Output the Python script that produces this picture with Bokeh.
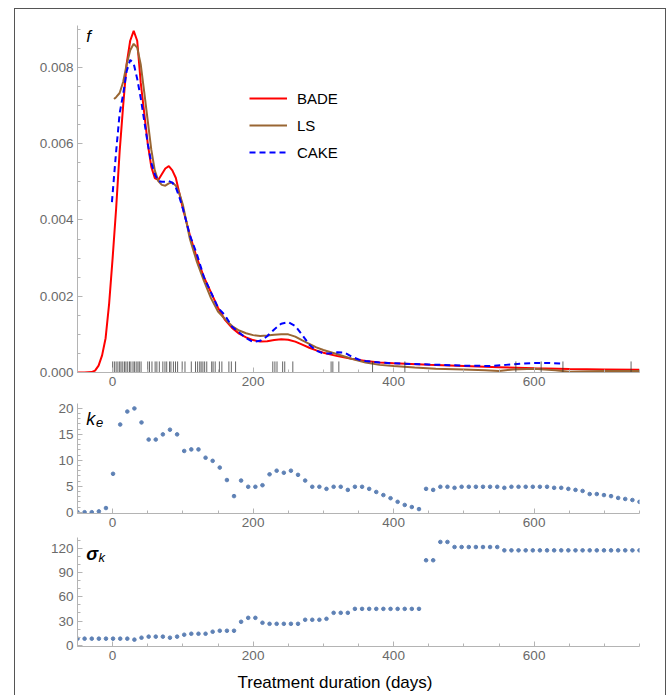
from bokeh.plotting import figure
from bokeh.layouts import column
from bokeh.models import (Range1d, Legend, LegendItem, Title,
                          SingleIntervalTicker, NumeralTickFormatter)
from bokeh.embed import file_html
from bokeh.resources import INLINE
from bokeh.core.properties import value

FONT = "Liberation Sans"
AXIS_GRAY = "#b4b4b4"
LABEL_GRAY = "#6a6a6a"
DOT_BLUE = "#5e81b5"

# ---- density estimates f(t) ----
bade_t = [-50, -40, -30, -25, -20, -15, -10, -5, 0, 5, 10, 15, 20, 25, 30, 35, 40,
          45, 50, 55, 60, 65, 70, 75, 80, 85, 90, 95, 100, 110, 120, 130, 140, 150,
          160, 170, 180, 190, 200, 210, 220, 230, 240, 250, 260, 270, 280, 290, 300,
          320, 340, 360, 380, 400, 450, 500, 550, 600, 650, 700, 750]
bade_f = [0, 0, 0.00001, 0.00005, 0.00018, 0.00045, 0.0009, 0.0018, 0.0030, 0.0043,
          0.0058, 0.0070, 0.0081, 0.0087, 0.00896, 0.0087, 0.0076, 0.0068, 0.0060,
          0.0054, 0.0051, 0.00505, 0.0052, 0.00535, 0.00541, 0.0053, 0.0051, 0.0047,
          0.0043, 0.0036, 0.0030, 0.0025, 0.0021, 0.0017, 0.00138, 0.00117, 0.00102,
          0.00092, 0.00085, 0.00081, 0.00082, 0.00085, 0.00087, 0.00086, 0.00081,
          0.00073, 0.00065, 0.00058, 0.00052, 0.00043, 0.00036, 0.0003, 0.00026,
          0.00024, 0.0002, 0.00017, 0.00014, 0.00011, 0.00009, 0.00008, 0.00007]

ls_t = [2, 5, 10, 15, 20, 25, 30, 35, 40, 45, 50, 55, 60, 65, 70, 75, 80, 85, 90, 95,
        100, 110, 120, 130, 140, 150, 160, 170, 180, 190, 200, 210, 220, 230, 240, 250,
        260, 270, 280, 290, 300, 320, 340, 360, 380, 400, 430, 460, 500, 530, 550, 570,
        600, 630, 650, 700, 750]
ls_f = [0.00717, 0.00722, 0.00733, 0.00762, 0.00808, 0.00845, 0.00862, 0.00852,
        0.00808, 0.00735, 0.0066, 0.00585, 0.0053, 0.00502, 0.00492, 0.0049, 0.00496,
        0.00498, 0.0049, 0.0047, 0.0044, 0.0035, 0.0029, 0.0024, 0.00195, 0.0016,
        0.0014, 0.00122, 0.0011, 0.00103, 0.00098, 0.00096, 0.00097, 0.00099, 0.001,
        0.001, 0.00094, 0.00084, 0.00075, 0.00066, 0.00059, 0.00048, 0.00036, 0.00026,
        0.0002, 0.00017, 0.00013, 0.0001, 0.00008, 0.00006, 0.00004, 0.00008, 0.0001,
        0.00006, 0.00002, 0.00004, 0.00004]

cake_t = [-1, 5, 10, 15, 20, 25, 30, 35, 40, 45, 50, 55, 60, 65, 70, 75, 80, 85, 90,
          95, 100, 110, 120, 130, 140, 150, 160, 170, 180, 190, 200, 210, 220, 230, 240,
          250, 260, 270, 280, 290, 300, 310, 320, 330, 340, 350, 360, 380, 400, 450, 500,
          540, 560, 580, 600, 620, 641]
cake_f = [0.00447, 0.0058, 0.0068, 0.0073, 0.0079, 0.0082, 0.0081, 0.0077, 0.0072,
          0.0066, 0.006, 0.0055, 0.0052, 0.00502, 0.005, 0.005, 0.00502, 0.00498,
          0.00485, 0.0046, 0.0043, 0.0036, 0.0031, 0.0025, 0.0021, 0.0017, 0.0015,
          0.0012, 0.00105, 0.0009, 0.0008, 0.00083, 0.00095, 0.00113, 0.00128, 0.00132,
          0.00122, 0.00098, 0.00073, 0.00057, 0.0005, 0.0005, 0.00053, 0.00052, 0.00042,
          0.00034, 0.0003, 0.00026, 0.00024, 0.00021, 0.00018, 0.00017, 0.0002, 0.00023,
          0.00025, 0.00025, 0.00023]

# observed treatment durations (rug)
durations = [0, 2.5, 5, 7.5, 10, 12, 14.5, 17, 19, 21.5, 24, 26, 29, 31, 33.5, 36, 38,
             40.5, 50, 52.5, 56, 60.5, 63, 66.5, 71.5, 74.5, 77, 81, 83, 86.5, 89.5,
             92.5, 99, 103, 112, 118, 121, 124, 126, 128.5, 131, 134, 141, 143, 146,
             152, 155.5, 165.5, 169, 175, 228, 231, 234, 242, 245, 256.5, 311, 313.5,
             322, 370, 416, 574, 610, 641, 738]

# ---- kernel parameters on an 80-point evaluation grid over [-50, 750] ----
grid_t = [-50.0, -39.9, -29.7, -19.6, -9.5, 0.6, 10.8, 20.9, 31.0, 41.1,
          51.3, 61.4, 71.5, 81.6, 91.8, 101.9, 112.0, 122.2, 132.3, 142.4,
          152.5, 162.7, 172.8, 182.9, 193.0, 203.2, 213.3, 223.4, 233.5, 243.7,
          253.8, 263.9, 274.1, 284.2, 294.3, 304.4, 314.6, 324.7, 334.8, 344.9,
          355.1, 365.2, 375.3, 385.4, 395.6, 405.7, 415.8, 425.9, 436.1, 446.2,
          456.3, 466.5, 476.6, 486.7, 496.8, 507.0, 517.1, 527.2, 537.3, 547.5,
          557.6, 567.7, 577.8, 588.0, 598.1, 608.2, 618.4, 628.5, 638.6, 648.7,
          658.9, 669.0, 679.1, 689.2, 699.4, 709.5, 719.6, 729.7, 739.9, 750.0]
k_e = [0, 0, 0, 0.15, 0.8, 7.4, 16.9, 19.4, 20.0, 17.3, 14.0, 14.0, 15.0, 15.9, 15.0,
       11.8, 12.1, 12.1, 10.5, 9.9, 8.6, 6.2, 3.1, 6.1, 4.9, 4.9, 5.2, 7.3, 8.0, 7.6,
       8.0, 7.2, 6.1, 4.9, 4.9, 4.5, 4.9,
       4.9, 4.3, 4.9, 4.9, 4.5, 3.9, 3.3, 2.7, 2.0, 1.4, 1.0, 0.6,
       4.5, 4.3, 4.9, 4.9, 4.7, 4.9, 4.9, 4.9, 4.9, 4.9, 4.9, 4.7, 4.9, 4.9, 4.9, 4.9,
       4.9, 4.9, 4.7, 4.7, 4.5, 4.3, 4.1, 3.5, 3.5, 3.3, 3.1, 2.75, 2.55, 2.35, 2.0]
sigma_k = ([8.2] * 8 + [7.0, 9.4, 10.7, 10.7, 10.7, 9.4, 10.7, 13.1, 14.3, 14.3, 14.3,
           16.8, 18.0, 18.0, 18.0, 29.1, 34.0, 34.0, 27.9] + [26.6] * 5 +
           [31.6, 31.6, 31.6, 32.8, 40.2, 40.2, 40.2] + [45.1] * 10 +
           [105.3, 105.3, 128.0, 128.0] + [121.7] * 7 + [117.6] * 20)

X_RANGE = (-50, 750)
FRAME_W = 562
ML, MR = 62, 26


def style_axes(p, ytick, ynum_minor, yfmt=None):
    for ax in (p.xaxis[0], p.yaxis[0]):
        ax.axis_line_color = AXIS_GRAY
        ax.major_tick_line_color = AXIS_GRAY
        ax.minor_tick_line_color = AXIS_GRAY
        ax.major_tick_in = 5
        ax.major_tick_out = 0
        ax.minor_tick_in = 3
        ax.minor_tick_out = 0
        ax.major_label_text_font = FONT
        ax.major_label_text_font_size = "13.5px"
        ax.major_label_text_color = LABEL_GRAY
        ax.major_label_standoff = 4
    p.xaxis[0].ticker = SingleIntervalTicker(interval=200, num_minor_ticks=4)
    p.yaxis[0].ticker = SingleIntervalTicker(interval=ytick, num_minor_ticks=ynum_minor)
    if yfmt:
        p.yaxis[0].formatter = NumeralTickFormatter(format=yfmt)
    p.xgrid.visible = False
    p.ygrid.visible = False
    p.outline_line_color = None


def make_fig(frame_h, y_range, top, bottom):
    p = figure(frame_width=FRAME_W, frame_height=frame_h,
               x_range=Range1d(*X_RANGE), y_range=Range1d(*y_range),
               output_backend="svg", toolbar_location=None,
               min_border_left=ML, min_border_right=MR,
               min_border_top=top, min_border_bottom=bottom)
    return p


# ---- top panel: densities ----
p1 = make_fig(347, (0, 0.0091), 16, 22)
r_bade = p1.line(bade_t, bade_f, line_color="#ff0000", line_width=2)
r_ls = p1.line(ls_t, ls_f, line_color="#996633", line_width=2)
r_cake = p1.line(cake_t, cake_f, line_color="#0000ff", line_width=2,
                 line_dash="6 4")
p1.segment(x0=durations, y0=[0] * len(durations), x1=durations,
           y1=[0.00029] * len(durations), line_color="#333333", line_width=1,
           line_alpha=0.75)
style_axes(p1, 0.002, 4, "0.000")
p1.text(x=[-37.5], y=[0.0088], text=["f"], text_font=value(FONT),
        text_font_style="italic", text_font_size="17px", text_color="black",
        text_baseline="middle", text_align="left")

legend = Legend(items=[LegendItem(label="BADE", renderers=[r_bade]),
                       LegendItem(label="LS", renderers=[r_ls]),
                       LegendItem(label="CAKE", renderers=[r_cake])],
                location=(172, 210), orientation="vertical")
legend.label_text_font = FONT
legend.label_text_font_size = "15px"
legend.label_text_color = "black"
legend.glyph_width = 38
legend.glyph_height = 20
legend.label_height = 20
legend.spacing = 7
legend.label_standoff = 10
legend.padding = 0
legend.margin = 0
legend.border_line_color = None
legend.background_fill_alpha = 0
p1.add_layout(legend)

# ---- middle panel: k_e ----
p2 = make_fig(110, (-0.25, 20.95), 9, 21)
p2.scatter(grid_t, k_e, size=3.6, color=DOT_BLUE)
style_axes(p2, 5, 5)
p2.text(x=[-37.5], y=[17.9], text=["k"], text_font=value(FONT),
        text_font_style="italic", text_font_size="18px", text_color="black",
        text_baseline="alphabetic", text_align="left")
p2.text(x=[-23.5], y=[17.3], text=["e"], text_font=value(FONT),
        text_font_style="italic", text_font_size="13px", text_color="black",
        text_baseline="alphabetic", text_align="left")

# ---- bottom panel: sigma_k ----
p3 = make_fig(109, (-1.5, 133.5), 3, 62)
p3.scatter(grid_t, sigma_k, size=3.6, color=DOT_BLUE)
style_axes(p3, 30, 3)
p3.text(x=[-37.5], y=[112.6], text=["σ"], text_font=value(FONT),
        text_font_style="bold italic", text_font_size="18px", text_color="black",
        text_baseline="alphabetic", text_align="left")
p3.text(x=[-20], y=[108.5], text=["k"], text_font=value(FONT),
        text_font_style="italic", text_font_size="13px", text_color="black",
        text_baseline="alphabetic", text_align="left")
p3.add_layout(Title(text="Treatment duration (days)", align="left", offset=160,
                    text_font=FONT, text_font_size="17px",
                    text_font_style="normal", text_color="black", standoff=16),
              "below")

layout = column(p1, p2, p3, spacing=0,
                styles={"border": "1.5px solid #555555", "margin-left": "14px",
                        "margin-top": "8px"})

open("out.html", "w").write(file_html(layout, INLINE))
